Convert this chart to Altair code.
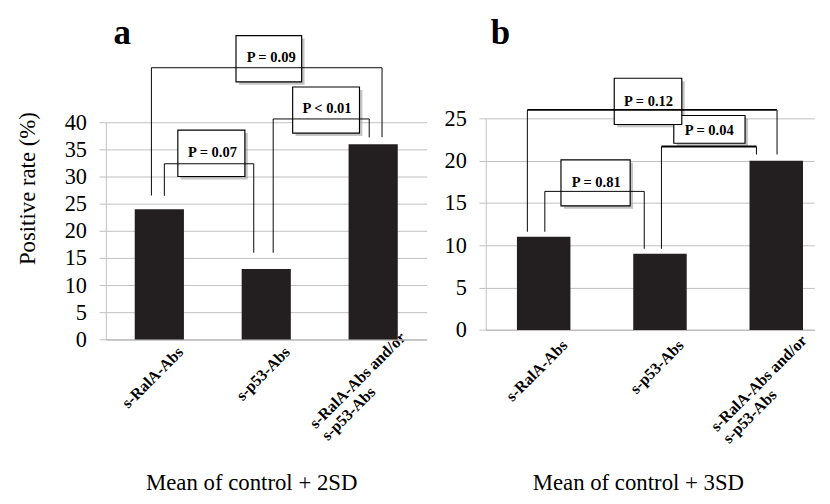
import altair as alt
import pandas as pd

# ---------------- data ----------------
categories = ["s-RalA-Abs", "s-p53-Abs", "s-RalA-Abs and/or\ns-p53-Abs"]
rate_2sd = [24, 13, 36]
rate_3sd = [11, 9, 20]

# panel a: significance brackets (x in category units, y in % units)
a_p = ["P = 0.07", "P < 0.01", "P = 0.09"]
a_left = [0.547, 1.565, 0.426]
a_right = [1.383, 2.463, 2.583]
a_top = [32.4, 40.66, 50.1]
a_left_end = [26.5, 16.0, 26.55]
a_right_end = [16.0, 37.27, 37.3]
a_box_x1 = [0.673, 1.747, 1.217]
a_box_x2 = [1.30, 2.372, 1.831]
a_box_y1 = [30.05, 38.04, 47.5]
a_box_y2 = [38.6, 46.55, 56.0]
a_text_x = [0.997, 2.069, 1.546]
a_text_y = [34.6, 42.6, 52.0]

# panel b
b_p = ["P = 0.81", "P = 0.04", "P = 0.12"]
b_left = [0.508, 1.511, 0.358]
b_right = [1.363, 2.328, 2.505]
b_top = [16.37, 21.68, 26.0]
b_left_end = [11.6, 9.6, 11.6]
b_right_end = [9.6, 20.73, 20.73]
b_box_x1 = [0.647, 1.617, 1.105]
b_box_x2 = [1.242, 2.23, 1.686]
b_box_y1 = [14.66, 22.06, 24.28]
b_box_y2 = [20.1, 25.34, 29.74]
b_text_x = [0.95, 1.922, 1.40]
b_text_y = [17.5, 23.62, 27.06]

SERIF = "Liberation Serif"
GRID = "#bfbfbf"
BAR = "#231f20"


def panel(values, p, left, right, top, lend, rend, bx1, bx2, by1, by2, tx, ty,
          letter, letter_xy, ymax, width, height, yrange, band, xunits,
          xtitle, xtitle_pos, ytitle, label_pad, multi_pos, thick):
    bars_df = pd.DataFrame({"cat": categories, "value": values})
    segs = []
    for i in range(len(p)):
        w = 2 if p[i] in thick else 1
        segs.append({"x": left[i], "x2": right[i], "y": top[i], "y2": top[i], "w": w})
        segs.append({"x": left[i], "x2": left[i], "y": lend[i], "y2": top[i], "w": 1})
        segs.append({"x": right[i], "x2": right[i], "y": rend[i], "y2": top[i], "w": 1})
    seg_df = pd.DataFrame(segs)
    box_df = pd.DataFrame({"p": p, "x1": bx1, "x2": bx2, "y1": by1, "y2": by2,
                           "tx": tx, "ty": ty})
    let_df = pd.DataFrame({"t": [letter], "x": [letter_xy[0]], "y": [letter_xy[1]]})

    yscale = alt.Scale(domain=[0, ymax], nice=False, range=yrange)
    xq = alt.Scale(domain=[0, xunits], nice=False, zero=False)

    multi = "indexof(datum.value, '/') >= 0"
    xaxis = alt.Axis(
        title=xtitle, titleFont=SERIF, titleFontSize=23.5, titleFontWeight="normal",
        titleColor="black", titleX=xtitle_pos[0], titleY=xtitle_pos[1],
        titleAlign="center", titleBaseline="alphabetic",
        labelAngle=-45,
        labelAlign={"condition": {"test": multi, "value": "left"}, "value": "right"},
        labelBaseline={"condition": {"test": multi, "value": "alphabetic"}, "value": "middle"},
        labelOffset={"condition": {"test": multi, "value": multi_pos[0]}, "value": 22},
        labelPadding={"condition": {"test": multi, "value": multi_pos[1]}, "value": label_pad},
        labelFont=SERIF, labelFontWeight="bold",
        labelFontSize=16.5, labelLineHeight=17.7, labelColor="black",
        labelExpr="split(datum.label, '\\n')", labelOverlap=False, labelBound=False,
        ticks=False, grid=False, domainColor=GRID, domainWidth=1.5,
    )
    yaxis_kw = dict(
        values=list(range(0, ymax + 1, 5)), labelFont=SERIF, labelFontSize=23,
        labelColor="black", labelPadding=13, tickSize=7, tickColor=GRID,
        domainColor=GRID, gridColor=GRID, gridWidth=1, labelOverlap=False,
    )
    if ytitle:
        yaxis = alt.Axis(title=ytitle, titleFont=SERIF, titleFontSize=23.5,
                         titleFontWeight="normal", titleColor="black",
                         titleX=-81, titleY=72, titleAlign="center",
                         titleBaseline="middle", **yaxis_kw)
    else:
        yaxis = alt.Axis(title=None, **yaxis_kw)

    def Y(field):
        return alt.Y(field, scale=yscale, axis=yaxis, title=ytitle)

    bars = alt.Chart(bars_df).mark_bar(color=BAR).encode(
        x=alt.X("cat:N", sort=categories,
                scale=alt.Scale(paddingInner=band[0], paddingOuter=band[1], align=band[2]),
                axis=xaxis),
        y=Y("value:Q"),
    )
    shadow = alt.Chart(box_df).mark_rect(
        fill="#8c8c8c", opacity=0.5, xOffset=3, x2Offset=3, yOffset=3, y2Offset=3
    ).encode(
        x=alt.X("x1:Q", scale=xq, axis=None), x2="x2:Q",
        y=Y("y1:Q"), y2="y2:Q",
    )
    box = alt.Chart(box_df).mark_rect(fill="white", stroke="black", strokeWidth=1.2).encode(
        x=alt.X("x1:Q", scale=xq, axis=None), x2="x2:Q",
        y=Y("y1:Q"), y2="y2:Q",
    )
    seg = alt.Chart(seg_df).mark_rule(color="black").encode(
        x=alt.X("x:Q", scale=xq, axis=None), x2="x2:Q",
        y=Y("y:Q"), y2="y2:Q",
        strokeWidth=alt.StrokeWidth("w:Q", scale=None, legend=None),
    )
    txt = alt.Chart(box_df).mark_text(
        font=SERIF, fontWeight="bold", fontSize=15, baseline="middle", color="black"
    ).encode(
        x=alt.X("tx:Q", scale=xq, axis=None),
        y=Y("ty:Q"), text="p:N",
    )
    let = alt.Chart(let_df).mark_text(
        font=SERIF, fontWeight="bold", fontSize=36, align="left",
        baseline="alphabetic", color="black"
    ).encode(
        x=alt.X("x:Q", scale=xq, axis=None),
        y=Y("y:Q"), text="t:N",
    )
    return alt.layer(bars, shadow, box, seg, txt, let).resolve_scale(
        x="independent").properties(width=width, height=height)


left = panel(rate_2sd, a_p, a_left, a_right, a_top, a_left_end, a_right_end,
             a_box_x1, a_box_x2, a_box_y1, a_box_y2, a_text_x, a_text_y,
             "a", (0.072, 54.46), 40, 331, 228.3, [228.3, 4.3], (0.54, 0.27, 0.5), 3,
             "Mean of control + 2SD", (150, 155), "Positive rate (%)", 10,
             (-59, 92), [])
right = panel(rate_3sd, b_p, b_left, b_right, b_top, b_left_end, b_right_end,
              b_box_x1, b_box_x2, b_box_y1, b_box_y2, b_text_x, b_text_y,
              "b", (0.044, 33.78), 25, 339, 218.3, [218.3, 0], (0.54, 0.1825, 0.735),
              339 / 120, "Mean of control + 3SD", (157, 165), None, 13,
              (-61, 105), ["P = 0.04", "P = 0.12"])

chart = alt.hconcat(left, right, spacing=18).properties(
    padding={"left": 8, "top": 0, "right": 0, "bottom": 0},
    background="white",
).configure_view(stroke=None)

chart.save("out.html", embed_options={"renderer": "svg", "actions": False})
